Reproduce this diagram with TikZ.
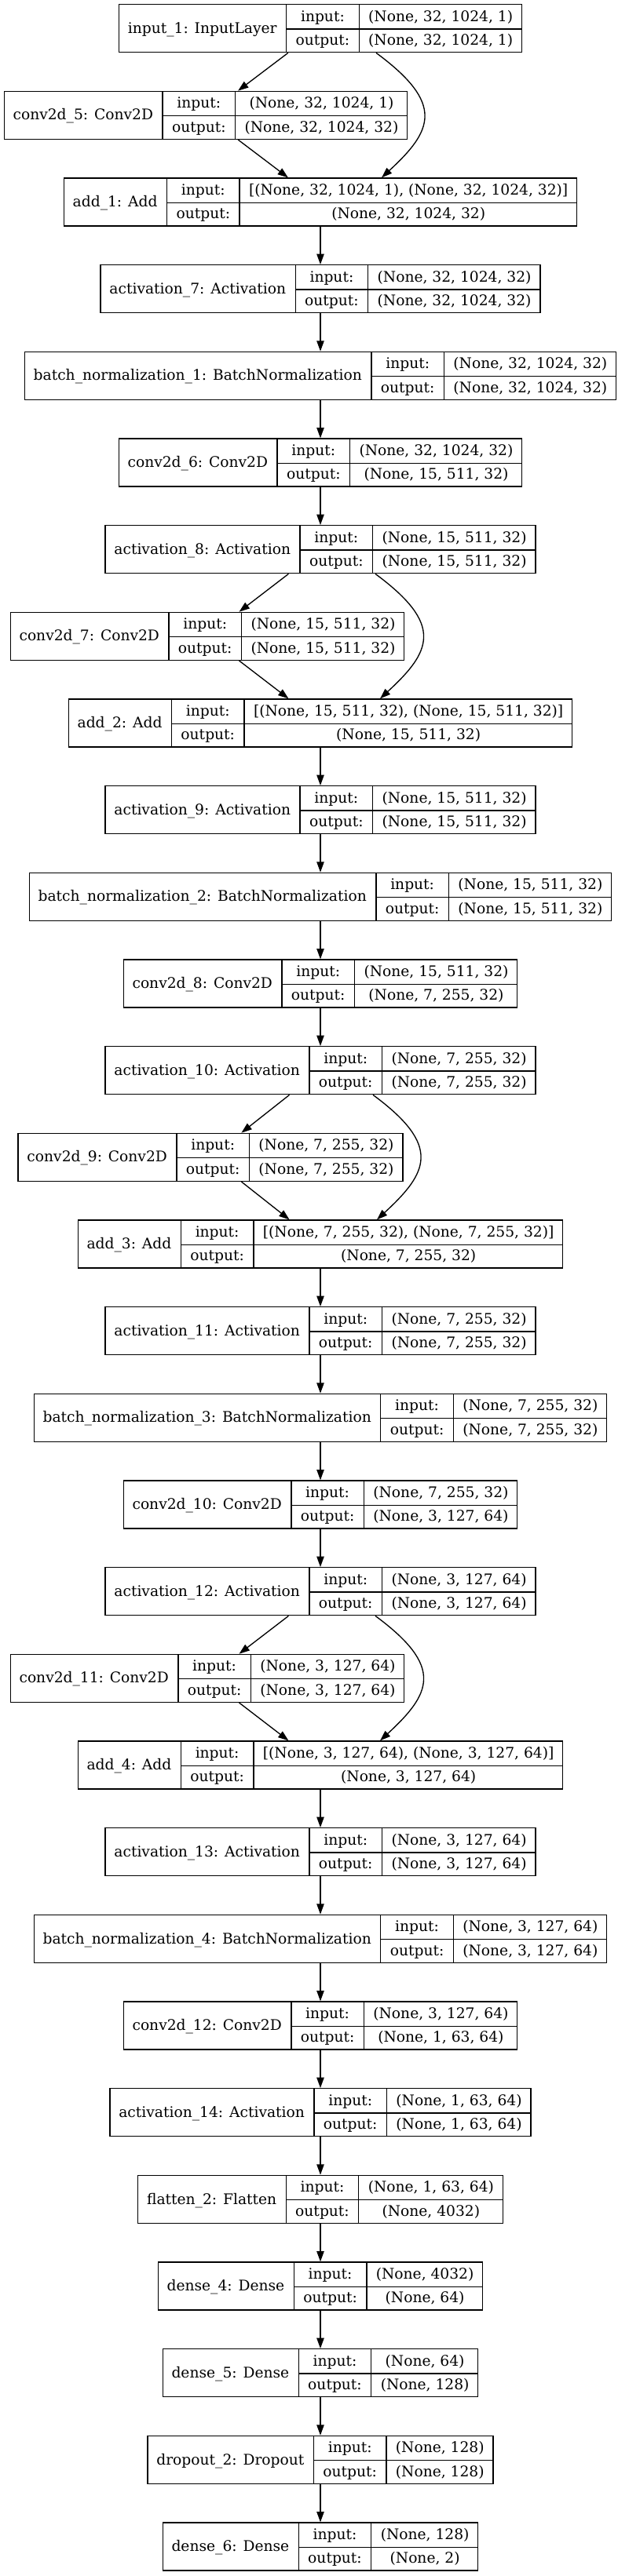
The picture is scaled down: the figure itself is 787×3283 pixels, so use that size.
\documentclass[tikz,border=0pt]{standalone}
\usepackage{fontspec}
\setmainfont{DejaVu Serif}
\usepackage{array}
\usetikzlibrary{arrows.meta,positioning}

\setlength{\arrayrulewidth}{1pt}
\setlength{\tabcolsep}{8.5pt}
\renewcommand{\arraystretch}{1.3456}

% one layer record: name | input/output | shapes
\newcommand{\rec}[3]{%
  \begin{tabular}{c|c|c}
    \raisebox{-11.44pt}[0pt][0pt]{#1} & input: & #2\\ \cline{2-3}
     & output: & #3
  \end{tabular}}

\begin{document}
\begin{tikzpicture}[x=0.75pt,y=-0.75pt,->,>={Triangle[length=10pt,width=7pt]},node distance=83pt,line width=1pt]
  \tikzstyle{layer}=[draw, inner sep=0pt, font=\fontsize{14}{17}\selectfont]
  \useasboundingbox (0,0) rectangle (787,3283);

  % first block
  \node[layer] (in1) at (408,36.2) {\rec{input\_1: InputLayer}{(None, 32, 1024, 1)}{(None, 32, 1024, 1)}};
  \node[layer] (conv5) [below of=in1, xshift=-109.5pt] {\rec{conv2d\_5: Conv2D}{(None, 32, 1024, 1)}{(None, 32, 1024, 32)}};
  \node[layer] (add1) [below of=conv5, xshift=109.5pt] {\rec{add\_1: Add}{[(None, 32, 1024, 1), (None, 32, 1024, 32)]}{(None, 32, 1024, 32)}};
  \node[layer] (act7) [below of=add1] {\rec{activation\_7: Activation}{(None, 32, 1024, 32)}{(None, 32, 1024, 32)}};
  \node[layer] (bn1) [below of=act7] {\rec{batch\_normalization\_1: BatchNormalization}{(None, 32, 1024, 32)}{(None, 32, 1024, 32)}};
  \node[layer] (conv6) [below of=bn1] {\rec{conv2d\_6: Conv2D}{(None, 32, 1024, 32)}{(None, 15, 511, 32)}};

  % second block
  \node[layer] (act8) [below of=conv6] {\rec{activation\_8: Activation}{(None, 15, 511, 32)}{(None, 15, 511, 32)}};
  \node[layer] (conv7) [below of=act8, xshift=-108pt] {\rec{conv2d\_7: Conv2D}{(None, 15, 511, 32)}{(None, 15, 511, 32)}};
  \node[layer] (add2) [below of=conv7, xshift=108pt] {\rec{add\_2: Add}{[(None, 15, 511, 32), (None, 15, 511, 32)]}{(None, 15, 511, 32)}};
  \node[layer] (act9) [below of=add2] {\rec{activation\_9: Activation}{(None, 15, 511, 32)}{(None, 15, 511, 32)}};
  \node[layer] (bn2) [below of=act9] {\rec{batch\_normalization\_2: BatchNormalization}{(None, 15, 511, 32)}{(None, 15, 511, 32)}};
  \node[layer] (conv8) [below of=bn2] {\rec{conv2d\_8: Conv2D}{(None, 15, 511, 32)}{(None, 7, 255, 32)}};

  % third block
  \node[layer] (act10) [below of=conv8] {\rec{activation\_10: Activation}{(None, 7, 255, 32)}{(None, 7, 255, 32)}};
  \node[layer] (conv9) [below of=act10, xshift=-105pt] {\rec{conv2d\_9: Conv2D}{(None, 7, 255, 32)}{(None, 7, 255, 32)}};
  \node[layer] (add3) [below of=conv9, xshift=105pt] {\rec{add\_3: Add}{[(None, 7, 255, 32), (None, 7, 255, 32)]}{(None, 7, 255, 32)}};
  \node[layer] (act11) [below of=add3] {\rec{activation\_11: Activation}{(None, 7, 255, 32)}{(None, 7, 255, 32)}};
  \node[layer] (bn3) [below of=act11] {\rec{batch\_normalization\_3: BatchNormalization}{(None, 7, 255, 32)}{(None, 7, 255, 32)}};
  \node[layer] (conv10) [below of=bn3] {\rec{conv2d\_10: Conv2D}{(None, 7, 255, 32)}{(None, 3, 127, 64)}};

  % fourth block
  \node[layer] (act12) [below of=conv10] {\rec{activation\_12: Activation}{(None, 3, 127, 64)}{(None, 3, 127, 64)}};
  \node[layer] (conv11) [below of=act12, xshift=-108pt] {\rec{conv2d\_11: Conv2D}{(None, 3, 127, 64)}{(None, 3, 127, 64)}};
  \node[layer] (add4) [below of=conv11, xshift=108pt] {\rec{add\_4: Add}{[(None, 3, 127, 64), (None, 3, 127, 64)]}{(None, 3, 127, 64)}};
  \node[layer] (act13) [below of=add4] {\rec{activation\_13: Activation}{(None, 3, 127, 64)}{(None, 3, 127, 64)}};
  \node[layer] (bn4) [below of=act13] {\rec{batch\_normalization\_4: BatchNormalization}{(None, 3, 127, 64)}{(None, 3, 127, 64)}};
  \node[layer] (conv12) [below of=bn4] {\rec{conv2d\_12: Conv2D}{(None, 3, 127, 64)}{(None, 1, 63, 64)}};

  % head
  \node[layer] (act14) [below of=conv12] {\rec{activation\_14: Activation}{(None, 1, 63, 64)}{(None, 1, 63, 64)}};
  \node[layer] (flat2) [below of=act14] {\rec{flatten\_2: Flatten}{(None, 1, 63, 64)}{(None, 4032)}};
  \node[layer] (dense4) [below of=flat2] {\rec{dense\_4: Dense}{(None, 4032)}{(None, 64)}};
  \node[layer] (dense5) [below of=dense4] {\rec{dense\_5: Dense}{(None, 64)}{(None, 128)}};
  \node[layer] (drop2) [below of=dense5] {\rec{dropout\_2: Dropout}{(None, 128)}{(None, 128)}};
  \node[layer] (dense6) [below of=drop2] {\rec{dense\_6: Dense}{(None, 128)}{(None, 2)}};

  % branches
  \path (in1) edge (conv5) (conv5) edge (add1)
        (act8) edge (conv7) (conv7) edge (add2)
        (act10) edge (conv9) (conv9) edge (add3)
        (act12) edge (conv11) (conv11) edge (add4);

  % skip connections
  \draw ([xshift=53.25pt]in1.south) .. controls +(88,65) and +(65,-60) .. ([xshift=58.5pt]add1.north);
  \draw ([xshift=52.5pt]act8.south) .. controls +(88,65) and +(65,-60) .. ([xshift=57pt]add2.north);
  \draw ([xshift=50.25pt]act10.south) .. controls +(88,65) and +(65,-60) .. ([xshift=54pt]add3.north);
  \draw ([xshift=52.5pt]act12.south) .. controls +(88,65) and +(65,-60) .. ([xshift=57pt]add4.north);

  % main chain
  \path (add1) edge (act7) (act7) edge (bn1) (bn1) edge (conv6) (conv6) edge (act8)
        (add2) edge (act9) (act9) edge (bn2) (bn2) edge (conv8) (conv8) edge (act10)
        (add3) edge (act11) (act11) edge (bn3) (bn3) edge (conv10) (conv10) edge (act12)
        (add4) edge (act13) (act13) edge (bn4) (bn4) edge (conv12) (conv12) edge (act14)
        (act14) edge (flat2) (flat2) edge (dense4) (dense4) edge (dense5)
        (dense5) edge (drop2) (drop2) edge (dense6);
\end{tikzpicture}
\end{document}
